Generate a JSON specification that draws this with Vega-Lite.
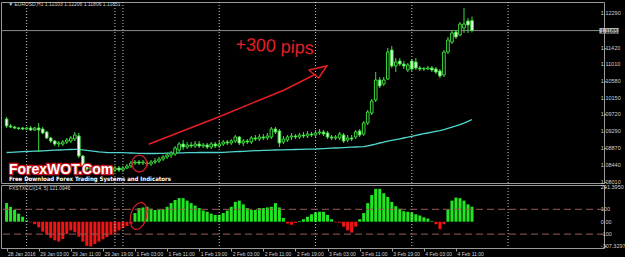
{
"$schema": "https://vega.github.io/schema/vega-lite/v6.json",
"background": "#000000",
"padding": {"left": 0, "top": 1, "right": 0, "bottom": 0},
"bounds": "flush",
"spacing": 2,
"config": {
 "view": {"stroke": "#9a9a9a", "strokeWidth": 1},
 "axis": {"labelFont": "Liberation Sans", "labelFontSize": 5.5, "labelColor": "#d0d0d0", "tickColor": "#9a9a9a", "tickSize": 2, "domain": false, "grid": false, "labelOverlap": false, "labelFlush": false, "labelBound": false},
 "text": {"font": "Liberation Sans"}
},
"datasets": {
 "seps": [{"i":0},{"i":22},{"i":24},{"i":48},{"i":72},{"i":96},{"i":120}],
 "ylabTop": [{"v":1.1229,"t":"1.12290"},{"v":1.1142,"t":"1.11420"},{"v":1.1101,"t":"1.11010"},{"v":1.1058,"t":"1.10580"},{"v":1.1015,"t":"1.10150"},{"v":1.0972,"t":"1.09720"},{"v":1.0929,"t":"1.09290"},{"v":1.0887,"t":"1.08870"},{"v":1.0844,"t":"1.08440"},{"v":1.0801,"t":"1.08010"}],
 "ylabBot": [{"v":277,"t":"291.3950"},{"v":100,"t":"100"},{"v":0,"t":"0.00"},{"v":-100,"t":"-100"},{"v":-193.5,"t":"-307.3297"}],
 "annot": [
  {"seg":"line","ord":1,"i":30.4,"p":1.08963},
  {"seg":"line","ord":2,"i":48.0,"p":1.09664},
  {"seg":"line","ord":3,"i":58.1,"p":1.10088},
  {"seg":"line","ord":4,"i":64.2,"p":1.10342},
  {"seg":"line","ord":5,"i":72.1,"p":1.10748},
  {"seg":"head","ord":1,"i":70.3,"p":1.10850},
  {"seg":"head","ord":2,"i":74.8,"p":1.10952},
  {"seg":"head","ord":3,"i":72.8,"p":1.10647},
  {"seg":"head","ord":4,"i":70.3,"p":1.10850}
 ],
 "bars": [
{"i":-5,"o":1.09605,"h":1.09656,"l":1.09377,"c":1.09428,"ma":1.08755,"cci":150},
{"i":-4,"o":1.09428,"h":1.09478,"l":1.09377,"c":1.09402,"ma":1.08760,"cci":120},
{"i":-3,"o":1.09402,"h":1.09428,"l":1.09351,"c":1.09377,"ma":1.08765,"cci":95},
{"i":-2,"o":1.09377,"h":1.09402,"l":1.09326,"c":1.09364,"ma":1.08770,"cci":65},
{"i":-1,"o":1.09377,"h":1.09402,"l":1.09326,"c":1.09351,"ma":1.08775,"cci":40},
{"i":0,"o":1.09351,"h":1.09402,"l":1.09326,"c":1.09377,"ma":1.08780,"cci":10},
{"i":1,"o":1.09377,"h":1.09428,"l":1.09301,"c":1.09326,"ma":1.08785,"cci":-5},
{"i":2,"o":1.09326,"h":1.09402,"l":1.09301,"c":1.09377,"ma":1.08790,"cci":-20},
{"i":3,"o":1.09377,"h":1.09504,"l":1.08767,"c":1.09326,"ma":1.08793,"cci":-45},
{"i":4,"o":1.09351,"h":1.09402,"l":1.09224,"c":1.09250,"ma":1.08798,"cci":-80},
{"i":5,"o":1.09275,"h":1.09301,"l":1.09097,"c":1.09123,"ma":1.08803,"cci":-105},
{"i":6,"o":1.09123,"h":1.09148,"l":1.08996,"c":1.09047,"ma":1.08808,"cci":-130},
{"i":7,"o":1.09047,"h":1.09072,"l":1.08920,"c":1.08970,"ma":1.08813,"cci":-150},
{"i":8,"o":1.08970,"h":1.09047,"l":1.08894,"c":1.08996,"ma":1.08818,"cci":-160},
{"i":9,"o":1.08970,"h":1.09072,"l":1.08920,"c":1.09021,"ma":1.08823,"cci":-140},
{"i":10,"o":1.09021,"h":1.09123,"l":1.08970,"c":1.09072,"ma":1.08828,"cci":-100},
{"i":11,"o":1.09047,"h":1.09174,"l":1.08996,"c":1.09123,"ma":1.08831,"cci":-70},
{"i":12,"o":1.09097,"h":1.09275,"l":1.09047,"c":1.09199,"ma":1.08833,"cci":-85},
{"i":13,"o":1.09174,"h":1.09250,"l":1.08615,"c":1.08666,"ma":1.08836,"cci":-120},
{"i":14,"o":1.08666,"h":1.08691,"l":1.08310,"c":1.08412,"ma":1.08823,"cci":-160},
{"i":15,"o":1.08412,"h":1.08462,"l":1.08285,"c":1.08335,"ma":1.08810,"cci":-195},
{"i":16,"o":1.08335,"h":1.08437,"l":1.08259,"c":1.08386,"ma":1.08798,"cci":-200},
{"i":17,"o":1.08386,"h":1.08437,"l":1.08234,"c":1.08310,"ma":1.08785,"cci":-180},
{"i":18,"o":1.08310,"h":1.08412,"l":1.08259,"c":1.08361,"ma":1.08772,"cci":-160},
{"i":19,"o":1.08361,"h":1.08412,"l":1.08259,"c":1.08335,"ma":1.08762,"cci":-142},
{"i":20,"o":1.08335,"h":1.08386,"l":1.08234,"c":1.08285,"ma":1.08755,"cci":-124},
{"i":21,"o":1.08285,"h":1.08361,"l":1.08234,"c":1.08310,"ma":1.08752,"cci":-106},
{"i":22,"o":1.08310,"h":1.08412,"l":1.08259,"c":1.08361,"ma":1.08749,"cci":-88},
{"i":23,"o":1.08361,"h":1.08412,"l":1.08259,"c":1.08310,"ma":1.08749,"cci":-70},
{"i":24,"o":1.08310,"h":1.08412,"l":1.08259,"c":1.08361,"ma":1.08749,"cci":-52},
{"i":25,"o":1.08361,"h":1.08462,"l":1.08335,"c":1.08412,"ma":1.08747,"cci":-34},
{"i":26,"o":1.08412,"h":1.08539,"l":1.08361,"c":1.08488,"ma":1.08742,"cci":-16},
{"i":27,"o":1.08488,"h":1.08564,"l":1.08437,"c":1.08513,"ma":1.08737,"cci":70},
{"i":28,"o":1.08513,"h":1.08564,"l":1.08437,"c":1.08488,"ma":1.08734,"cci":110},
{"i":29,"o":1.08488,"h":1.08564,"l":1.08437,"c":1.08513,"ma":1.08732,"cci":115},
{"i":30,"o":1.08488,"h":1.08539,"l":1.08412,"c":1.08475,"ma":1.08729,"cci":120},
{"i":31,"o":1.08462,"h":1.08564,"l":1.08412,"c":1.08513,"ma":1.08729,"cci":105},
{"i":32,"o":1.08513,"h":1.08615,"l":1.08462,"c":1.08539,"ma":1.08729,"cci":95},
{"i":33,"o":1.08539,"h":1.08640,"l":1.08488,"c":1.08589,"ma":1.08732,"cci":95},
{"i":34,"o":1.08589,"h":1.08691,"l":1.08539,"c":1.08640,"ma":1.08734,"cci":100},
{"i":35,"o":1.08640,"h":1.08742,"l":1.08589,"c":1.08691,"ma":1.08737,"cci":120},
{"i":36,"o":1.08691,"h":1.08793,"l":1.08615,"c":1.08742,"ma":1.08739,"cci":150},
{"i":37,"o":1.08716,"h":1.08920,"l":1.08666,"c":1.08869,"ma":1.08742,"cci":175},
{"i":38,"o":1.08818,"h":1.09021,"l":1.08767,"c":1.08970,"ma":1.08744,"cci":190},
{"i":39,"o":1.08970,"h":1.09072,"l":1.08818,"c":1.08894,"ma":1.08747,"cci":190},
{"i":40,"o":1.08894,"h":1.09021,"l":1.08843,"c":1.08945,"ma":1.08749,"cci":170},
{"i":41,"o":1.08945,"h":1.09021,"l":1.08869,"c":1.08920,"ma":1.08752,"cci":150},
{"i":42,"o":1.08920,"h":1.09047,"l":1.08869,"c":1.08970,"ma":1.08752,"cci":130},
{"i":43,"o":1.08970,"h":1.09047,"l":1.08869,"c":1.08920,"ma":1.08755,"cci":110},
{"i":44,"o":1.08920,"h":1.08996,"l":1.08869,"c":1.08945,"ma":1.08755,"cci":90},
{"i":45,"o":1.08945,"h":1.08996,"l":1.08843,"c":1.08894,"ma":1.08755,"cci":80},
{"i":46,"o":1.08894,"h":1.09021,"l":1.08843,"c":1.08970,"ma":1.08755,"cci":65},
{"i":47,"o":1.08970,"h":1.09021,"l":1.08869,"c":1.08920,"ma":1.08755,"cci":55},
{"i":48,"o":1.08920,"h":1.09047,"l":1.08869,"c":1.08970,"ma":1.08755,"cci":55},
{"i":49,"o":1.08970,"h":1.09072,"l":1.08920,"c":1.09021,"ma":1.08760,"cci":70},
{"i":50,"o":1.09021,"h":1.09072,"l":1.08945,"c":1.08996,"ma":1.08765,"cci":90},
{"i":51,"o":1.08996,"h":1.09097,"l":1.08945,"c":1.09047,"ma":1.08770,"cci":120},
{"i":52,"o":1.09047,"h":1.09199,"l":1.08996,"c":1.09148,"ma":1.08775,"cci":160},
{"i":53,"o":1.09148,"h":1.09174,"l":1.08945,"c":1.08996,"ma":1.08780,"cci":170},
{"i":54,"o":1.08996,"h":1.09097,"l":1.08920,"c":1.09047,"ma":1.08785,"cci":140},
{"i":55,"o":1.09047,"h":1.09097,"l":1.08970,"c":1.09021,"ma":1.08790,"cci":110},
{"i":56,"o":1.09021,"h":1.09174,"l":1.08970,"c":1.09123,"ma":1.08795,"cci":95},
{"i":57,"o":1.09123,"h":1.09199,"l":1.09047,"c":1.09097,"ma":1.08800,"cci":95},
{"i":58,"o":1.09097,"h":1.09224,"l":1.09047,"c":1.09148,"ma":1.08803,"cci":110},
{"i":59,"o":1.09148,"h":1.09224,"l":1.09072,"c":1.09123,"ma":1.08808,"cci":110},
{"i":60,"o":1.09123,"h":1.09250,"l":1.09072,"c":1.09174,"ma":1.08810,"cci":115},
{"i":61,"o":1.09148,"h":1.09402,"l":1.09097,"c":1.09351,"ma":1.08815,"cci":120},
{"i":62,"o":1.09351,"h":1.09402,"l":1.09224,"c":1.09275,"ma":1.08818,"cci":150},
{"i":63,"o":1.09301,"h":1.09351,"l":1.08894,"c":1.08996,"ma":1.08821,"cci":115},
{"i":64,"o":1.09021,"h":1.09174,"l":1.08970,"c":1.09097,"ma":1.08823,"cci":30},
{"i":65,"o":1.09072,"h":1.09199,"l":1.09021,"c":1.09148,"ma":1.08826,"cci":-15},
{"i":66,"o":1.09148,"h":1.09250,"l":1.09072,"c":1.09174,"ma":1.08828,"cci":-25},
{"i":67,"o":1.09174,"h":1.09224,"l":1.09097,"c":1.09148,"ma":1.08831,"cci":-10},
{"i":68,"o":1.09148,"h":1.09250,"l":1.09097,"c":1.09199,"ma":1.08833,"cci":5},
{"i":69,"o":1.09199,"h":1.09275,"l":1.09123,"c":1.09174,"ma":1.08836,"cci":20},
{"i":70,"o":1.09174,"h":1.09301,"l":1.09123,"c":1.09224,"ma":1.08838,"cci":40},
{"i":71,"o":1.09224,"h":1.09275,"l":1.09148,"c":1.09199,"ma":1.08841,"cci":60},
{"i":72,"o":1.09199,"h":1.09326,"l":1.09148,"c":1.09250,"ma":1.08843,"cci":75},
{"i":73,"o":1.09250,"h":1.09351,"l":1.09199,"c":1.09275,"ma":1.08848,"cci":80},
{"i":74,"o":1.09275,"h":1.09326,"l":1.09174,"c":1.09224,"ma":1.08854,"cci":80},
{"i":75,"o":1.09250,"h":1.09301,"l":1.09097,"c":1.09148,"ma":1.08859,"cci":55},
{"i":76,"o":1.09148,"h":1.09199,"l":1.09072,"c":1.09123,"ma":1.08864,"cci":20},
{"i":77,"o":1.09123,"h":1.09199,"l":1.09072,"c":1.09148,"ma":1.08869,"cci":-5},
{"i":78,"o":1.09123,"h":1.09275,"l":1.09072,"c":1.09224,"ma":1.08874,"cci":-8},
{"i":79,"o":1.09199,"h":1.09250,"l":1.08996,"c":1.09047,"ma":1.08879,"cci":-40},
{"i":80,"o":1.09072,"h":1.09199,"l":1.09021,"c":1.09123,"ma":1.08884,"cci":-70},
{"i":81,"o":1.09123,"h":1.09199,"l":1.09047,"c":1.09097,"ma":1.08889,"cci":-88},
{"i":82,"o":1.09148,"h":1.09326,"l":1.09097,"c":1.09275,"ma":1.08894,"cci":-40},
{"i":83,"o":1.09301,"h":1.09351,"l":1.09148,"c":1.09199,"ma":1.08899,"cci":20},
{"i":84,"o":1.09224,"h":1.09555,"l":1.09174,"c":1.09504,"ma":1.08904,"cci":70},
{"i":85,"o":1.09504,"h":1.09834,"l":1.09453,"c":1.09783,"ma":1.08925,"cci":150},
{"i":86,"o":1.09758,"h":1.10113,"l":1.09707,"c":1.10063,"ma":1.08945,"cci":215},
{"i":87,"o":1.10088,"h":1.10799,"l":1.10037,"c":1.10596,"ma":1.08970,"cci":265},
{"i":88,"o":1.10596,"h":1.10672,"l":1.10393,"c":1.10444,"ma":1.08996,"cci":265},
{"i":89,"o":1.10494,"h":1.10672,"l":1.10444,"c":1.10596,"ma":1.09021,"cci":230},
{"i":90,"o":1.10621,"h":1.11409,"l":1.10596,"c":1.11307,"ma":1.09042,"cci":200},
{"i":91,"o":1.11358,"h":1.11460,"l":1.10901,"c":1.10952,"ma":1.09062,"cci":160},
{"i":92,"o":1.10952,"h":1.11155,"l":1.10799,"c":1.11053,"ma":1.09082,"cci":125},
{"i":93,"o":1.11079,"h":1.11155,"l":1.10952,"c":1.11002,"ma":1.09102,"cci":105},
{"i":94,"o":1.11002,"h":1.11079,"l":1.10875,"c":1.10952,"ma":1.09123,"cci":85},
{"i":95,"o":1.10850,"h":1.11028,"l":1.10799,"c":1.10977,"ma":1.09143,"cci":80},
{"i":96,"o":1.11079,"h":1.11129,"l":1.10825,"c":1.10875,"ma":1.09166,"cci":75},
{"i":97,"o":1.11053,"h":1.11155,"l":1.10850,"c":1.10901,"ma":1.09189,"cci":60},
{"i":98,"o":1.10901,"h":1.10952,"l":1.10825,"c":1.10875,"ma":1.09212,"cci":50},
{"i":99,"o":1.10875,"h":1.10926,"l":1.10825,"c":1.10888,"ma":1.09232,"cci":35},
{"i":100,"o":1.10875,"h":1.10952,"l":1.10850,"c":1.10901,"ma":1.09250,"cci":25},
{"i":101,"o":1.10901,"h":1.10952,"l":1.10799,"c":1.10850,"ma":1.09270,"cci":5},
{"i":102,"o":1.10875,"h":1.10926,"l":1.10748,"c":1.10799,"ma":1.09290,"cci":-20},
{"i":103,"o":1.10825,"h":1.10875,"l":1.10647,"c":1.10698,"ma":1.09311,"cci":-60},
{"i":104,"o":1.10723,"h":1.11358,"l":1.10672,"c":1.11307,"ma":1.09336,"cci":-20},
{"i":105,"o":1.11307,"h":1.11688,"l":1.11256,"c":1.11612,"ma":1.09367,"cci":95},
{"i":106,"o":1.11561,"h":1.11866,"l":1.11510,"c":1.11790,"ma":1.09397,"cci":170},
{"i":107,"o":1.11815,"h":1.11866,"l":1.11637,"c":1.11688,"ma":1.09428,"cci":195},
{"i":108,"o":1.11739,"h":1.12069,"l":1.11714,"c":1.12018,"ma":1.09463,"cci":190},
{"i":109,"o":1.11917,"h":1.12425,"l":1.11790,"c":1.12018,"ma":1.09499,"cci":170},
{"i":110,"o":1.12095,"h":1.12171,"l":1.11790,"c":1.11993,"ma":1.09544,"cci":140},
{"i":111,"o":1.12103,"h":1.12206,"l":1.11806,"c":1.11851,"ma":1.09593,"cci":121.0946}
 ]
},
"vconcat": [
 {
  "width": 603, "height": 181,
  "layer": [
   {"data": {"name": "seps"}, "mark": {"type": "rule", "color": "#c8c8c8", "strokeDash": [1, 2], "strokeWidth": 1},
    "encoding": {"x": {"field": "i", "type": "quantitative", "scale": {"domain": [-5.147, 142.65], "nice": false, "zero": false}, "axis": null}}},
   {"data": {"values": [{}]}, "mark": {"type": "rule", "color": "#8a8a8a", "strokeWidth": 1},
    "encoding": {"y": {"datum": 1.11851, "type": "quantitative", "scale": {"domain": [1.0798, 1.12577], "nice": false, "zero": false},
      "axis": {"orient": "right", "title": null, "values": [1.1229, 1.1142, 1.1101, 1.1058, 1.1015, 1.0972, 1.0929, 1.0887, 1.0844, 1.0801], "labels": false}}}},
   {"data": {"name": "ylabTop"}, "mark": {"type": "text", "fontSize": 5.5, "fill": "#d0d0d0", "align": "left", "baseline": "middle"},
    "encoding": {"x": {"datum": 143.1, "type": "quantitative", "scale": {"domain": [-5.147, 142.65], "nice": false, "zero": false}, "axis": null},
     "y": {"field": "v", "type": "quantitative", "scale": {"domain": [1.0798, 1.12577], "nice": false, "zero": false}},
     "text": {"field": "t"}}},
   {"data": {"name": "bars"}, "mark": {"type": "line", "color": "#4fd6cf", "strokeWidth": 1.3},
    "encoding": {"x": {"field": "i", "type": "quantitative", "scale": {"domain": [-5.147, 142.65], "nice": false, "zero": false}, "axis": null},
     "y": {"field": "ma", "type": "quantitative", "scale": {"domain": [1.0798, 1.12577], "nice": false, "zero": false}}}},
   {"data": {"name": "bars"}, "mark": {"type": "rule", "color": "#3ddc3d", "strokeWidth": 1},
    "encoding": {"x": {"field": "i", "type": "quantitative", "scale": {"domain": [-5.147, 142.65], "nice": false, "zero": false}, "axis": null},
     "y": {"field": "l", "type": "quantitative", "scale": {"domain": [1.0798, 1.12577], "nice": false, "zero": false}},
     "y2": {"field": "h"}}},
   {"data": {"name": "bars"}, "mark": {"type": "bar", "size": 2.6, "stroke": "#3ddc3d", "strokeWidth": 1},
    "encoding": {"x": {"field": "i", "type": "quantitative", "scale": {"domain": [-5.147, 142.65], "nice": false, "zero": false}, "axis": null},
     "y": {"field": "o", "type": "quantitative", "scale": {"domain": [1.0798, 1.12577], "nice": false, "zero": false}},
     "y2": {"field": "c"},
     "fill": {"condition": {"test": "datum.c > datum.o", "value": "#000000"}, "value": "#ffffff"}}},
   {"data": {"name": "annot"}, "mark": {"type": "line", "color": "#e41e26", "strokeWidth": 1.5},
    "encoding": {"x": {"field": "i", "type": "quantitative", "scale": {"domain": [-5.147, 142.65], "nice": false, "zero": false}, "axis": null},
     "y": {"field": "p", "type": "quantitative", "scale": {"domain": [1.0798, 1.12577], "nice": false, "zero": false}},
     "detail": {"field": "seg"}, "order": {"field": "ord"}}},
   {"data": {"values": [{}]}, "mark": {"type": "text", "text": "+300 pips", "fontSize": 18, "color": "#e41e26", "align": "left", "baseline": "alphabetic", "angle": 3},
    "encoding": {"x": {"datum": 51.96, "type": "quantitative", "scale": {"domain": [-5.147, 142.65], "nice": false, "zero": false}, "axis": null},
     "y": {"datum": 1.11358, "type": "quantitative", "scale": {"domain": [1.0798, 1.12577], "nice": false, "zero": false}}}},
   {"data": {"values": [{}]}, "mark": {"type": "point", "filled": false, "stroke": "#d42027", "strokeWidth": 1.2, "opacity": 1, "size": 289,
     "shape": "M0.88,0L0.762,0.5L0.44,0.866L0,1L-0.44,0.866L-0.762,0.5L-0.88,0L-0.762,-0.5L-0.44,-0.866L0,-1L0.44,-0.866L0.762,-0.5Z"},
    "encoding": {"x": {"datum": 28.1, "type": "quantitative", "scale": {"domain": [-5.147, 142.65], "nice": false, "zero": false}, "axis": null},
     "y": {"datum": 1.08475, "type": "quantitative", "scale": {"domain": [1.0798, 1.12577], "nice": false, "zero": false}}}},
   {"data": {"values": [{}]}, "mark": {"type": "text", "text": "ForexWOT.Com", "fontSize": 14, "fontWeight": "bold", "fill": "#c8141c", "stroke": "#c8141c", "strokeWidth": 2.5, "align": "left", "baseline": "middle"},
    "encoding": {"x": {"datum": -4.41, "type": "quantitative", "scale": {"domain": [-5.147, 142.65], "nice": false, "zero": false}, "axis": null},
     "y": {"datum": 1.0831, "type": "quantitative", "scale": {"domain": [1.0798, 1.12577], "nice": false, "zero": false}}}},
   {"data": {"values": [{}]}, "mark": {"type": "text", "text": "ForexWOT.Com", "fontSize": 14, "fontWeight": "bold", "fill": "#ffffff", "align": "left", "baseline": "middle"},
    "encoding": {"x": {"datum": -4.41, "type": "quantitative", "scale": {"domain": [-5.147, 142.65], "nice": false, "zero": false}, "axis": null},
     "y": {"datum": 1.0831, "type": "quantitative", "scale": {"domain": [1.0798, 1.12577], "nice": false, "zero": false}}}},
   {"data": {"values": [{}]}, "mark": {"type": "text", "text": "Free Download Forex Trading Systems and Indicators", "font": "'Liberation Sans Narrow', 'DejaVu Sans Condensed', 'Liberation Sans'", "fontSize": 6, "fontWeight": "bold", "fill": "#ffffff", "align": "left", "baseline": "middle"},
    "encoding": {"x": {"datum": -4.41, "type": "quantitative", "scale": {"domain": [-5.147, 142.65], "nice": false, "zero": false}, "axis": null},
     "y": {"datum": 1.08069, "type": "quantitative", "scale": {"domain": [1.0798, 1.12577], "nice": false, "zero": false}}}},
   {"data": {"values": [{}]}, "mark": {"type": "text", "text": "▼ EURUSD,H1  1.12103 1.12206 1.11806 1.11851", "fontSize": 5, "fill": "#d0d0d0", "align": "left", "baseline": "middle"},
    "encoding": {"x": {"datum": -4.6, "type": "quantitative", "scale": {"domain": [-5.147, 142.65], "nice": false, "zero": false}, "axis": null},
     "y": {"datum": 1.12514, "type": "quantitative", "scale": {"domain": [1.0798, 1.12577], "nice": false, "zero": false}}}},
   {"data": {"values": [{}]}, "mark": {"type": "rect", "fill": "#b4b4b4"},
    "encoding": {"x": {"datum": 142.75, "type": "quantitative", "scale": {"domain": [-5.147, 142.65], "nice": false, "zero": false}, "axis": null},
     "x2": {"datum": 147.6},
     "y": {"datum": 1.11917, "type": "quantitative", "scale": {"domain": [1.0798, 1.12577], "nice": false, "zero": false}},
     "y2": {"datum": 1.11777}}},
   {"data": {"values": [{}]}, "mark": {"type": "text", "text": "1.11851", "fontSize": 5.5, "fill": "#000000", "align": "left", "baseline": "middle"},
    "encoding": {"x": {"datum": 143.1, "type": "quantitative", "scale": {"domain": [-5.147, 142.65], "nice": false, "zero": false}, "axis": null},
     "y": {"datum": 1.11851, "type": "quantitative", "scale": {"domain": [1.0798, 1.12577], "nice": false, "zero": false}}}}
  ]
 },
 {
  "width": 603, "height": 63,
  "layer": [
   {"data": {"name": "bars"}, "mark": {"type": "bar", "size": 3},
    "encoding": {"x": {"field": "i", "type": "quantitative", "scale": {"domain": [-5.147, 142.65], "nice": false, "zero": false},
      "axis": {"orient": "bottom", "title": null, "tickSize": 3, "labelPadding": 0, "labelAlign": "left", "labelOffset": 1, "labelFontSize": 5, "labelOverlap": false, "labelFlush": false,
       "values": [-5, 3, 11, 19, 27, 35, 43, 51, 59, 67, 75, 83, 91, 99, 107],
       "labelExpr": "['28 Jan 2016','29 Jan 03:00','29 Jan 11:00','29 Jan 19:00','1 Feb 03:00','1 Feb 11:00','1 Feb 19:00','2 Feb 03:00','2 Feb 11:00','2 Feb 19:00','3 Feb 03:00','3 Feb 11:00','3 Feb 19:00','4 Feb 03:00','4 Feb 11:00'][indexof([-5,3,11,19,27,35,43,51,59,67,75,83,91,99,107], datum.value)]"}},
     "y": {"field": "cci", "type": "quantitative", "scale": {"domain": [-212, 296], "nice": false, "zero": false},
      "axis": {"orient": "right", "title": null, "labels": false, "values": [277, 100, 0, -100, -193.5]}},
     "y2": {"datum": 0},
     "color": {"condition": {"test": "datum.cci >= 0", "value": "#22e622"}, "value": "#f01414"}}},
   {"data": {"name": "ylabBot"}, "mark": {"type": "text", "fontSize": 5.5, "fill": "#d0d0d0", "align": "left", "baseline": "middle"},
    "encoding": {"x": {"datum": 143.1, "type": "quantitative"}, "y": {"field": "v", "type": "quantitative"}, "text": {"field": "t"}}},
   {"data": {"name": "seps"}, "mark": {"type": "rule", "color": "#c8c8c8", "strokeDash": [1, 2], "strokeWidth": 1},
    "encoding": {"x": {"field": "i", "type": "quantitative"}}},
   {"data": {"values": [{"lvl": 100}, {"lvl": -100}]}, "mark": {"type": "rule", "color": "#9a5a5a", "strokeDash": [7, 4], "strokeWidth": 1},
    "encoding": {"y": {"field": "lvl", "type": "quantitative"}}},
   {"data": {"values": [{}]}, "mark": {"type": "point", "filled": false, "stroke": "#d42027", "strokeWidth": 1.2, "opacity": 1, "size": 784, "angle": 15,
     "shape": "M0.571,0L0.495,0.5L0.286,0.866L0,1L-0.286,0.866L-0.495,0.5L-0.571,0L-0.495,-0.5L-0.286,-0.866L0,-1L0.286,-0.866L0.495,-0.5Z"},
    "encoding": {"x": {"datum": 27.9, "type": "quantitative"}, "y": {"datum": 46, "type": "quantitative"}}},
   {"data": {"values": [{}]}, "mark": {"type": "text", "text": "FXSTXCCI(14, 5) 121.0946", "fontSize": 5, "fill": "#d0d0d0", "align": "left", "baseline": "middle"},
    "encoding": {"x": {"datum": -4.41, "type": "quantitative"}, "y": {"datum": 268, "type": "quantitative"}}}
  ]
 }
]
}
